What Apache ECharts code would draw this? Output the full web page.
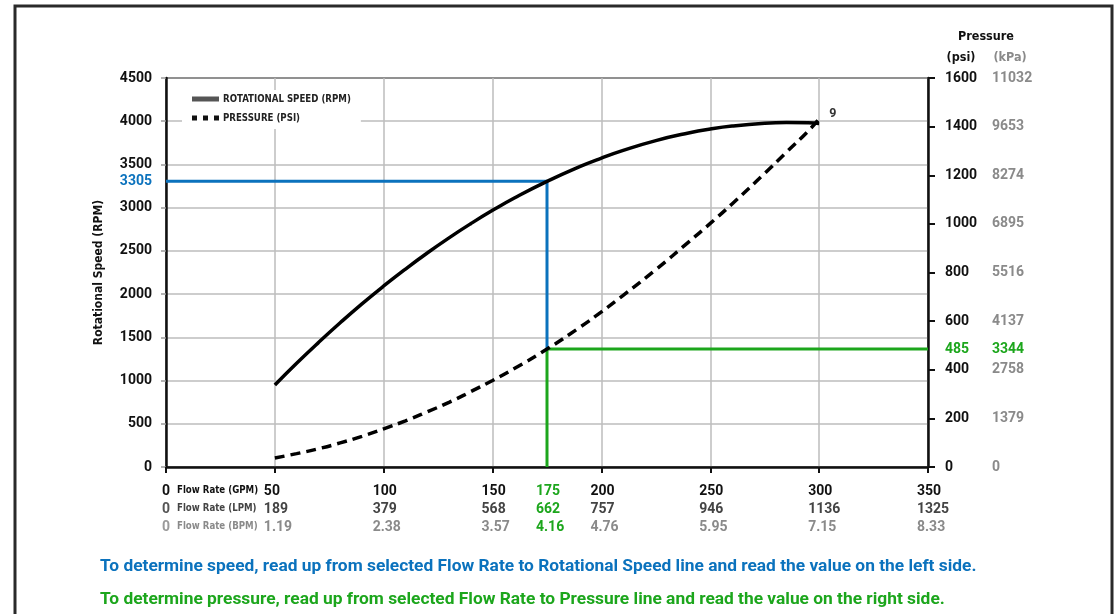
<!DOCTYPE html>
<html>
<head>
<meta charset="utf-8">
<script src="https://cdn.jsdelivr.net/npm/echarts@6/dist/echarts.min.js"></script>
<style>
html,body{margin:0;padding:0;background:#fff;}
#c{width:1115px;height:614px;}
</style>
</head>
<body>
<div id="c"></div>
<script>
// ---- data ----
const gpmTicks = [0, 50, 100, 150, 200, 250, 300, 350];
const lpmTicks = ['0', '189', '379', '568', '757', '946', '1136', '1325'];
const bpmTicks = ['0', '1.19', '2.38', '3.57', '4.76', '5.95', '7.15', '8.33'];
const rpmTicks = [0, 500, 1000, 1500, 2000, 2500, 3000, 3500, 4000, 4500];
const psiTicks = [0, 200, 400, 600, 800, 1000, 1200, 1400, 1600];
const kpaTicks = ['0', '1379', '2758', '4137', '5516', '6895', '8274', '9653', '11032'];

const flowRate    = [50, 60, 70, 80, 90, 100, 110, 120, 130, 140, 150, 160, 175, 190, 200, 210, 225, 240, 250, 260, 275, 285, 295, 300];
const speedRpm    = [949, 1200, 1439, 1668, 1887, 2094, 2290, 2476, 2651, 2815, 2969, 3112, 3305, 3475, 3574, 3663, 3776, 3864, 3910, 3944, 3976, 3984, 3981, 3975];
const pressurePsi = [37, 55, 75, 99, 126, 157, 190, 227, 266, 310, 356, 405, 485, 574, 638, 706, 812, 925, 1002, 1082, 1208, 1295, 1382, 1432];

const selFlow = { gpm: 175, lpm: '662', bpm: '4.16' };
const selSpeed = 3305;
const selPsi = 485;
const selKpa = '3344';
const endLabel = '9';

const seriesNames = ['ROTATIONAL SPEED (RPM)', 'PRESSURE (PSI)'];
const rowTitles = ['Flow Rate (GPM)', 'Flow Rate (LPM)', 'Flow Rate (BPM)'];
const noteSpeed = 'To determine speed, read up from selected Flow Rate to Rotational Speed line and read the value on the left side.';
const notePressure = 'To determine pressure, read up from selected Flow Rate to Pressure line and read the value on the right side.';

const RPM_MAX = 4500, PSI_MAX = 1600, GPM_MAX = 350;
const BLUE = '#0b72bd', GREEN = '#1ca61c';
const NUM = 'Roboto, "Liberation Sans", sans-serif';
const COND = '"DejaVu Sans Condensed", "Liberation Sans Narrow", sans-serif';
const ROW_COLORS = ['#111', '#444', '#8a8a8a'];
const ZERO_COLORS = ['#111', '#555', '#9a9a9a'];

const chart = echarts.init(document.getElementById('c'));

function numStyle(color) {
  return { fontFamily: NUM, fontWeight: 'bold', fontSize: 14, color: color, lineHeight: 18 };
}
const xRich = {
  a: numStyle(ROW_COLORS[0]), b: numStyle(ROW_COLORS[1]), c: numStyle(ROW_COLORS[2]), ga: numStyle(GREEN),
  za: numStyle(ZERO_COLORS[0]), zb: numStyle(ZERO_COLORS[1]), zc: numStyle(ZERO_COLORS[2]),
  pre0: { width: 7, fontSize: 10, lineHeight: 18 }
};

const xTickValues = gpmTicks.concat([selFlow.gpm]).sort((p, q) => p - q);

function xLabel(v) {
  if (v === selFlow.gpm) {
    return '{ga|' + selFlow.gpm + '}\n{ga|' + selFlow.lpm + '}\n{ga|' + selFlow.bpm + '}';
  }
  const i = gpmTicks.indexOf(v);
  if (i < 0) return '';
  if (i === 0) {
    return '{pre0| }{za|0}\n{pre0| }{zb|0}\n{pre0| }{zc|0}';
  }
  return '{a|' + gpmTicks[i] + '}\n{b|' + lpmTicks[i] + '}\n{c|' + bpmTicks[i] + '}';
}

const rRich = {
  p: { fontFamily: NUM, fontWeight: 'bold', fontSize: 14, color: '#111', width: 47, align: 'left' },
  k: { fontFamily: NUM, fontWeight: 'bold', fontSize: 14, color: '#8a8a8a', align: 'left' },
  gp: { fontFamily: NUM, fontWeight: 'bold', fontSize: 14, color: GREEN, width: 47, align: 'left' },
  gk: { fontFamily: NUM, fontWeight: 'bold', fontSize: 14, color: GREEN, align: 'left' }
};
function rLabel(v) {
  if (v === selPsi) return '{gp|' + selPsi + '}{gk|' + selKpa + '}';
  const i = psiTicks.indexOf(v);
  return i < 0 ? '' : '{p|' + v + '}{k|' + kpaTicks[i] + '}';
}
const lRich = {
  n: { fontFamily: NUM, fontWeight: 'bold', fontSize: 14, color: '#111' },
  s: { fontFamily: NUM, fontWeight: 'bold', fontSize: 14, color: BLUE }
};
function lLabel(v) {
  return v === selSpeed ? '{s|' + v + '}' : '{n|' + v + '}';
}

const speedData = flowRate.map((x, i) => [x, speedRpm[i]]);
const pressureData = flowRate.map((x, i) => [x, pressurePsi[i]]);

const titleGraphics = rowTitles.map((t, i) => ({
  type: 'text', x: 177, y: 490 + i * 18,
  style: { text: t, fontFamily: COND, fontWeight: 'bold', fontSize: 9.6, fill: ROW_COLORS[i], align: 'left', verticalAlign: 'middle' }
}));

const option = {
  animation: false,
  backgroundColor: '#fff',
  grid: { left: 166, right: 187, top: 78, bottom: 147, show: true, borderColor: '#111', borderWidth: 2 },
  legend: {
    orient: 'vertical', left: 182, top: 90, itemGap: 9, itemWidth: 27, itemHeight: 10,
    backgroundColor: '#fff', padding: [4, 10, 6, 10],
    textStyle: { fontFamily: COND, fontWeight: 'bold', fontSize: 9.6, color: '#222', padding: [0, 0, 0, -1] },
    data: [
      { name: seriesNames[0], icon: 'path://M0,0L27,0L27,5L0,5Z', itemStyle: { color: '#555' } },
      { name: seriesNames[1], icon: 'path://M0,0L5,0L5,5L0,5Z M11,0L16,0L16,5L11,5Z M22,0L27,0L27,5L22,5Z', itemStyle: { color: '#111' } }
    ]
  },
  xAxis: [
    {
      type: 'value', min: 0, max: GPM_MAX,
      axisLine: { lineStyle: { color: '#111', width: 2.5 } },
      axisTick: { show: true, length: 6, customValues: gpmTicks, lineStyle: { color: '#111', width: 2 } },
      splitLine: { show: true, lineStyle: { color: '#bdbdbd', width: 1.5 } },
      axisLabel: { margin: 15, align: 'left', padding: [0, 0, 0, -11], showMinLabel: true, showMaxLabel: true, hideOverlap: false,
        customValues: xTickValues, formatter: xLabel, rich: xRich }
    }
  ],
  yAxis: [
    {
      type: 'value', min: 0, max: RPM_MAX, position: 'left',
      name: 'Rotational Speed (RPM)', nameLocation: 'middle', nameGap: 61, nameRotate: 90,
      nameTextStyle: { fontFamily: COND, fontWeight: 'bold', fontSize: 12, color: '#111' },
      axisLine: { show: true, lineStyle: { color: '#111', width: 2.5 } },
      axisTick: { show: true, length: 5, customValues: rpmTicks, lineStyle: { color: '#999', width: 1.5 } },
      splitLine: { show: true, lineStyle: { color: '#bdbdbd', width: 1.5 } },
      axisLabel: { margin: 14, showMinLabel: true, showMaxLabel: true, hideOverlap: false,
        customValues: rpmTicks.concat([selSpeed]).sort((p, q) => p - q), formatter: lLabel, rich: lRich }
    },
    {
      type: 'value', min: 0, max: PSI_MAX, position: 'right',
      axisLine: { show: true, lineStyle: { color: '#111', width: 2.5 } },
      axisTick: { show: true, length: 7, customValues: psiTicks, lineStyle: { color: '#111', width: 2 } },
      splitLine: { show: false },
      axisLabel: { margin: 17, showMinLabel: true, showMaxLabel: true, hideOverlap: false,
        customValues: psiTicks.concat([selPsi]).sort((p, q) => p - q), formatter: rLabel, rich: rRich }
    }
  ],
  series: [
    {
      type: 'line', yAxisIndex: 0, symbol: 'none', silent: true, z: 2,
      lineStyle: { color: BLUE, width: 3 },
      data: [[0, selSpeed], [selFlow.gpm, selSpeed], [selFlow.gpm, selPsi * RPM_MAX / PSI_MAX]]
    },
    {
      type: 'line', yAxisIndex: 1, symbol: 'none', silent: true, z: 2,
      lineStyle: { color: GREEN, width: 3 },
      data: [[selFlow.gpm, 0], [selFlow.gpm, selPsi], [GPM_MAX, selPsi]]
    },
    {
      name: seriesNames[0], type: 'line', yAxisIndex: 0, smooth: true, symbol: 'none', z: 3,
      lineStyle: { color: '#000', width: 3.5 },
      endLabel: { show: true, formatter: endLabel, offset: [2, -10],
        fontFamily: NUM, fontWeight: 'bold', fontSize: 12.5, color: '#333' },
      data: speedData
    },
    {
      name: seriesNames[1], type: 'line', yAxisIndex: 1, smooth: true, symbol: 'none', z: 3,
      lineStyle: { color: '#000', width: 3.5, type: [10, 6] },
      data: pressureData
    }
  ],
  graphic: [
    { type: 'rect', shape: { x: 15, y: 6, width: 1097, height: 620 }, style: { fill: 'none', stroke: '#2a2a2a', lineWidth: 3 }, silent: true },
    { type: 'text', x: 986, y: 37, style: { text: 'Pressure', fontFamily: COND, fontWeight: 'bold', fontSize: 12.5, fill: '#111', align: 'center', verticalAlign: 'middle' } },
    { type: 'text', x: 961, y: 58, style: { text: '(psi)', fontFamily: COND, fontWeight: 'bold', fontSize: 12.5, fill: '#111', align: 'center', verticalAlign: 'middle' } },
    { type: 'text', x: 1010, y: 58, style: { text: '(kPa)', fontFamily: COND, fontWeight: 'bold', fontSize: 12.5, fill: '#8a8a8a', align: 'center', verticalAlign: 'middle' } },
    { type: 'text', x: 100, y: 567, style: { text: noteSpeed, fontFamily: NUM, fontWeight: 'bold', fontSize: 17.35, fill: BLUE, align: 'left', verticalAlign: 'middle' } },
    { type: 'text', x: 100, y: 600, style: { text: notePressure, fontFamily: NUM, fontWeight: 'bold', fontSize: 17.35, fill: GREEN, align: 'left', verticalAlign: 'middle' } }
  ].concat(titleGraphics)
};
chart.setOption(option);
</script>
</body>
</html>
